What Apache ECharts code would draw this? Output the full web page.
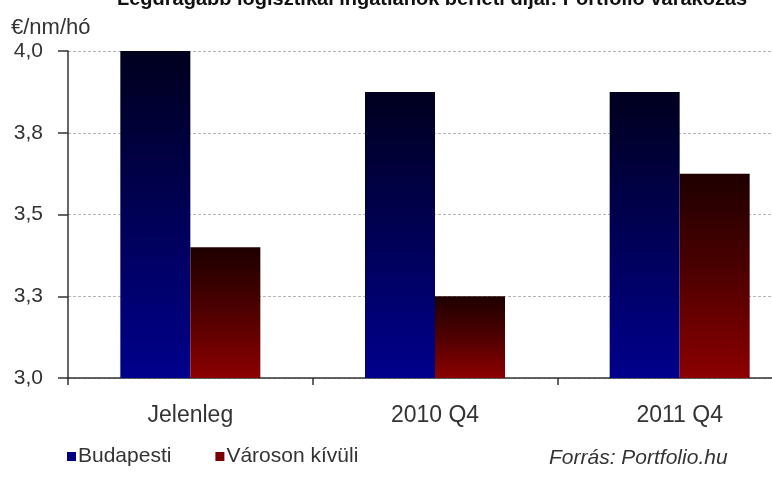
<!DOCTYPE html>
<html>
<head>
<meta charset="utf-8">
<script src="https://cdn.jsdelivr.net/npm/echarts@6/dist/echarts.min.js"></script>
<style>
  html, body { margin: 0; padding: 0; background: #ffffff; }
  #chart { width: 772px; height: 488px; }
</style>
</head>
<body>
<div id="chart"></div>
<script>
// Rental rates (€/nm/hó), current level and forecasts
const categories = ['Jelenleg', '2010 Q4', '2011 Q4'];
const budapesti = [4.0, 3.875, 3.875];
const varosonKivuli = [3.4, 3.25, 3.625];
const yTickLabels = ['3,0', '3,3', '3,5', '3,8', '4,0'];

const FONT = '"Liberation Sans", Arial, sans-serif';
const Y_MIN = 3.0, Y_STEP = 0.25;

function vGrad(top, mid, bottom) {
  return new echarts.graphic.LinearGradient(0, 0, 0, 1, [
    { offset: 0, color: top },
    { offset: 0.45, color: mid },
    { offset: 1, color: bottom }
  ]);
}

const chart = echarts.init(document.getElementById('chart'), null, { renderer: 'canvas' });

chart.setOption({
  backgroundColor: '#ffffff',
  animation: false,
  title: [
    {
      text: 'Legdrágább logisztikai ingatlanok bérleti díjai: Portfolio várakozás',
      left: 112, top: -16,
      textStyle: { fontFamily: FONT, fontSize: 20, fontWeight: 'bold', color: '#111111' }
    },
    {
      text: '€/nm/hó',
      left: 6, top: 12,
      textStyle: { fontFamily: FONT, fontSize: 22, fontWeight: 'normal', color: '#333333' }
    },
    {
      text: 'Forrás: Portfolio.hu',
      left: 544, top: 443,
      textStyle: { fontFamily: FONT, fontSize: 21, fontWeight: 'normal', fontStyle: 'italic', color: '#333333' }
    }
  ],
  legend: {
    left: 62, top: 441,
    icon: 'rect',
    itemWidth: 9, itemHeight: 9,
    itemGap: 44,
    textStyle: { fontFamily: FONT, fontSize: 21, color: '#333333', padding: [0, 0, 0, -3] },
    data: [
      { name: 'Budapesti', itemStyle: { color: '#000080' } },
      { name: 'Városon kívüli', itemStyle: { color: '#7a0000' } }
    ]
  },
  // plot area runs past the right edge of the page
  grid: { left: 68, width: 734, top: 51, height: 327, outerBoundsMode: 'none', containLabel: false },
  xAxis: {
    type: 'category',
    data: categories,
    axisLine: { lineStyle: { color: '#333333', width: 1.5 } },
    axisTick: { show: true, length: 7, lineStyle: { color: '#333333', width: 1.5 } },
    axisLabel: { margin: 26, fontFamily: FONT, fontSize: 23, color: '#333333' }
  },
  yAxis: {
    type: 'value',
    min: Y_MIN, max: 4.0, interval: Y_STEP,
    axisLine: { show: true, lineStyle: { color: '#333333', width: 1.5 } },
    axisTick: { show: true, length: 10, lineStyle: { color: '#333333', width: 1.5 } },
    axisLabel: {
      margin: 25, fontFamily: FONT, fontSize: 21, color: '#333333',
      formatter: v => yTickLabels[Math.round((v - Y_MIN) / Y_STEP)]
    },
    splitLine: { show: true, lineStyle: { color: '#b4b4b4', type: [3, 2], width: 1 } }
  },
  series: [
    {
      name: 'Budapesti',
      type: 'bar',
      data: budapesti,
      barWidth: 70,
      barGap: '0%',
      itemStyle: { color: vGrad('#00001e', '#000050', '#00008c') }
    },
    {
      name: 'Városon kívüli',
      type: 'bar',
      data: varosonKivuli,
      barWidth: 70,
      itemStyle: { color: vGrad('#1e0000', '#4a0000', '#8c0000') }
    }
  ]
});
</script>
</body>
</html>
